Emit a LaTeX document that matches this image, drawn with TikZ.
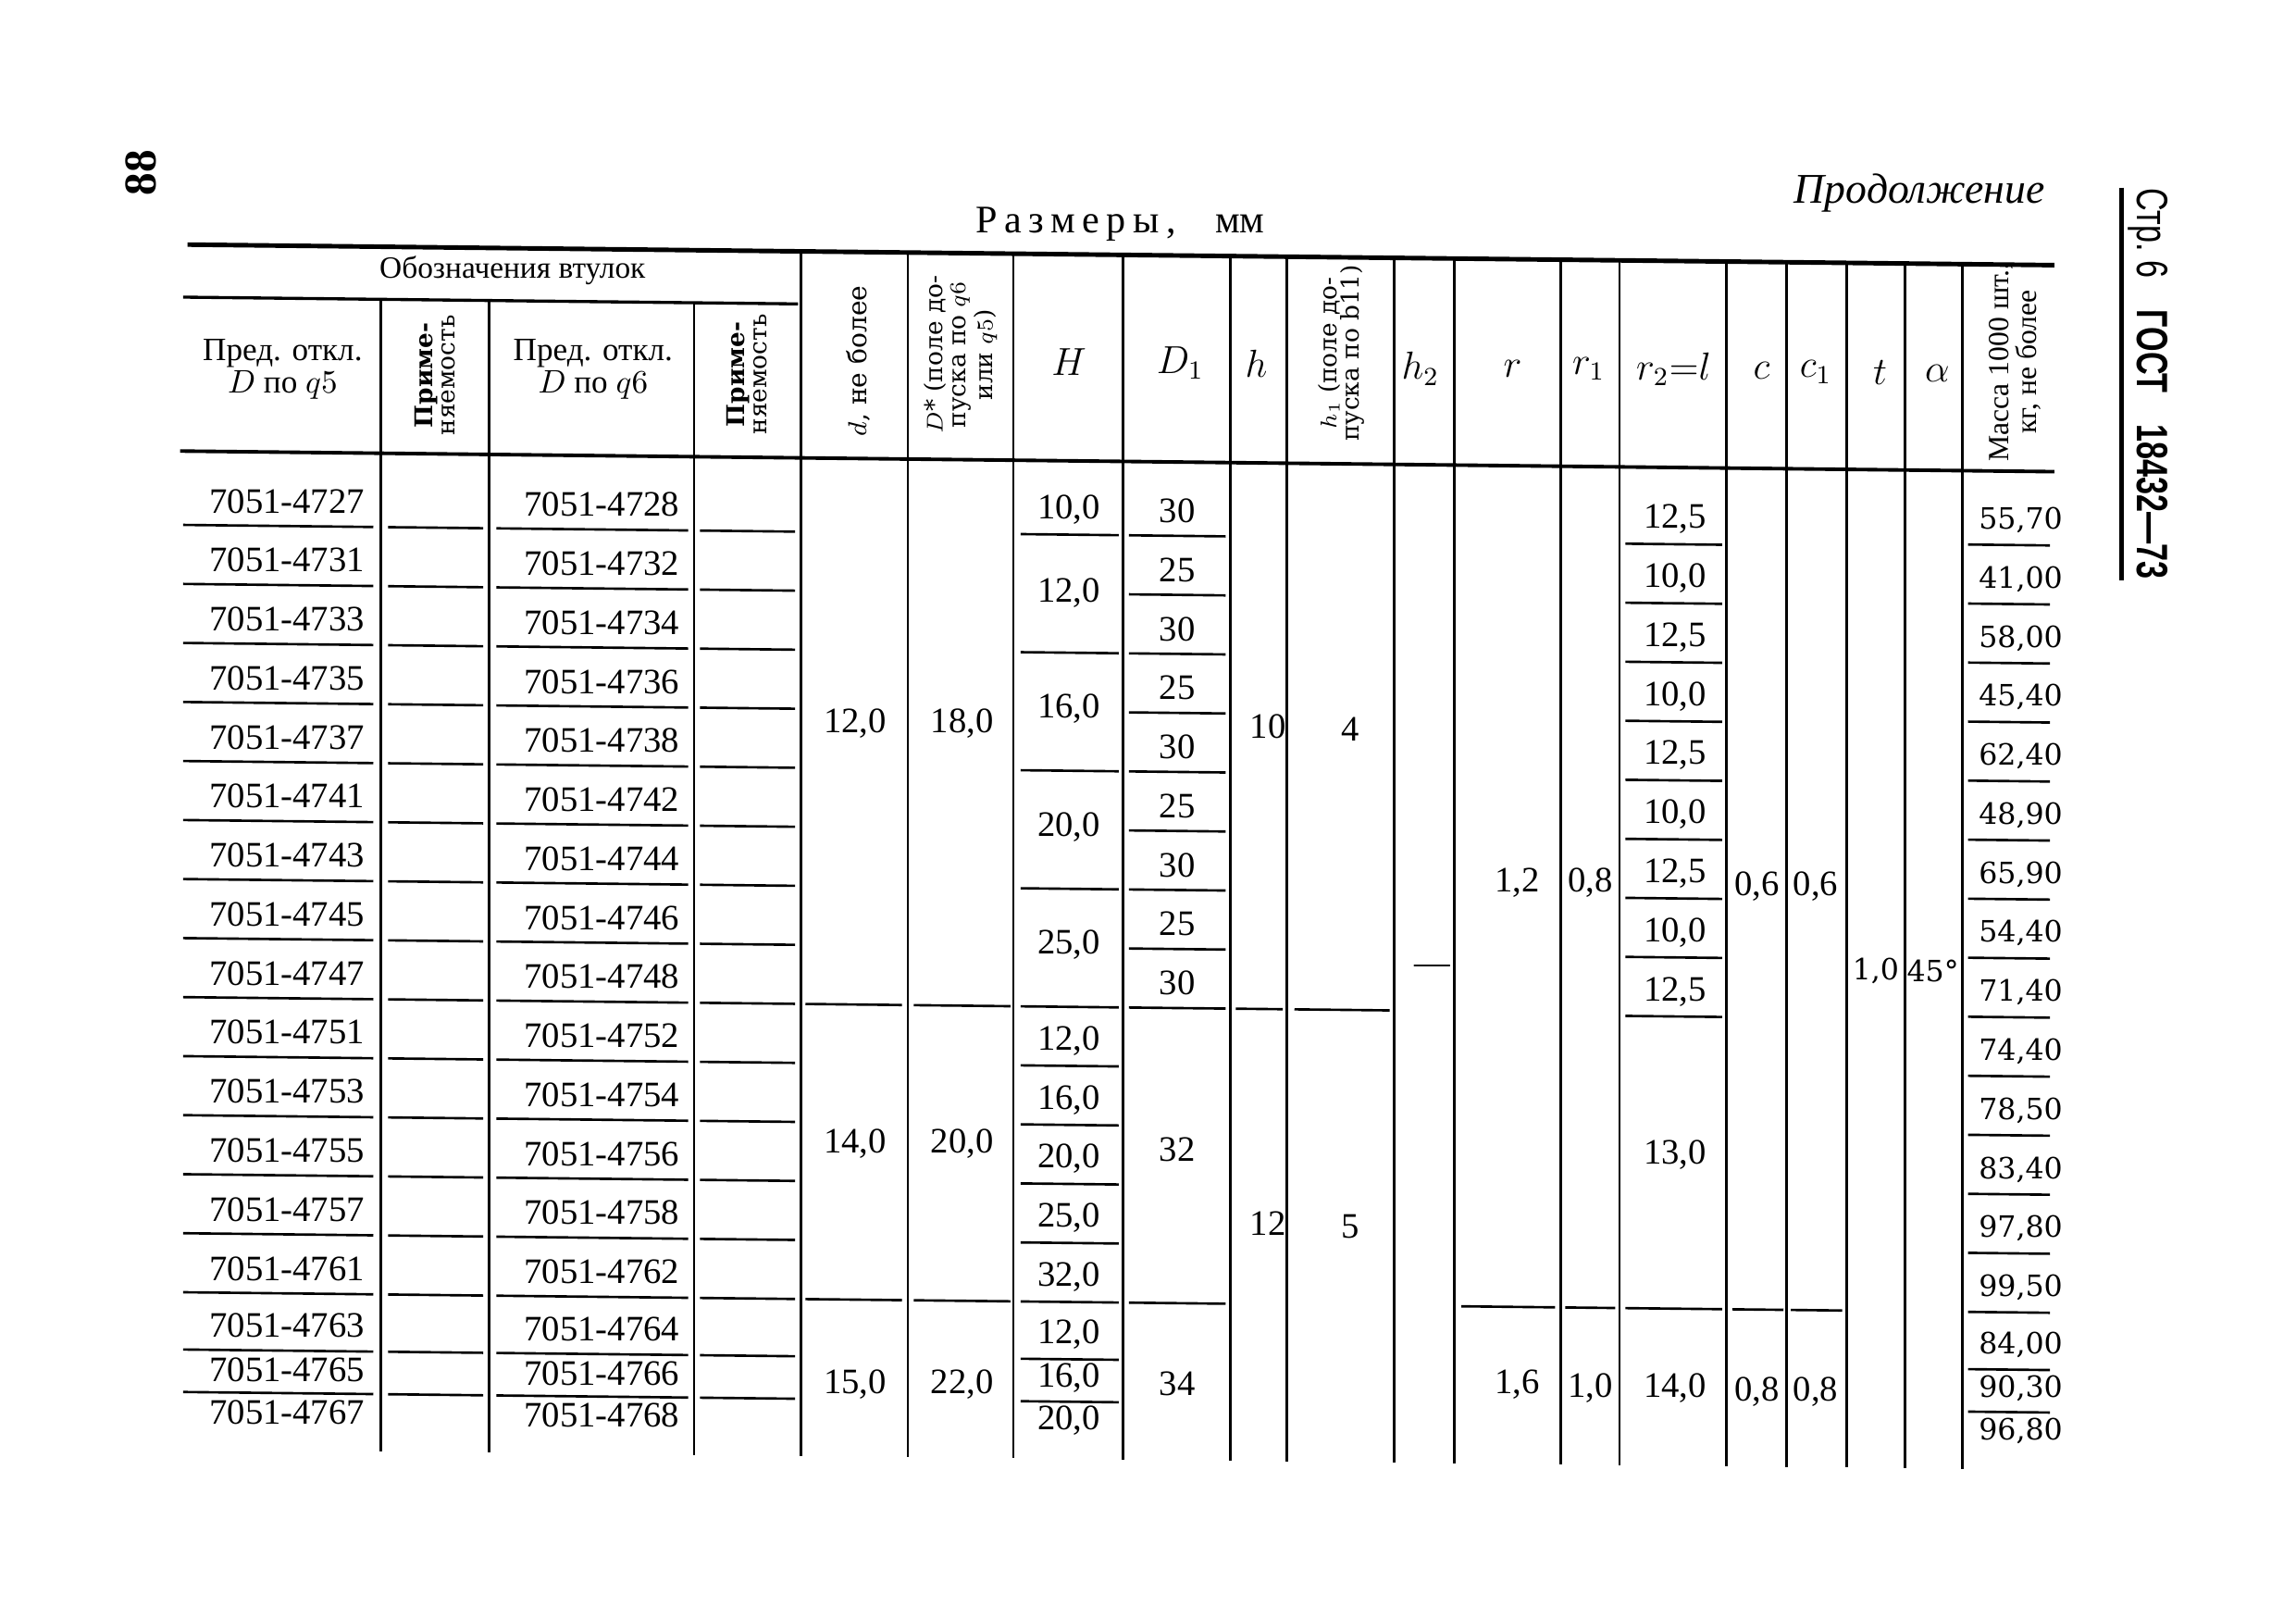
\documentclass[tikz,border=0pt]{standalone}
\usepackage{fontspec}
\setmainfont{Liberation Serif}
\newfontfamily\slabfont{DejaVu Serif}
\newfontfamily\gostfont{Liberation Sans}
\usepackage{graphicx}
\usetikzlibrary{positioning}

\begin{document}
\begin{tikzpicture}[x=0.015823cm,y=-0.015823cm,
    num/.style={inner sep=0pt,font=\fontsize{11}{12}\selectfont},
    mass/.style={inner sep=0pt,font=\slabfont\fontsize{9}{10}\selectfont},
    head/.style={inner sep=0pt,align=center,font=\fontsize{10}{8.5}\selectfont},
    sym/.style={inner sep=0pt,font=\fontsize{12}{12}\selectfont},
    vhead/.style={inner sep=0pt,align=center,rotate=90,font=\slabfont\fontsize{7.5}{7}\selectfont},
    toprule/.style={line width=1.4pt},
    midrule/.style={line width=1.1pt},
    colrule/.style={line width=0.8pt},
    uline/.style={line width=0.75pt}]
  \useasboundingbox (0,0) rectangle (1568,1105);
  \node[rotate=90,inner sep=0pt,font=\bfseries\fontsize{14}{14}\selectfont] (page) at (96,118) {88};
  \node[anchor=east,inner sep=0pt,font=\itshape\fontsize{13}{14}\selectfont] (cont) at (1397,132) {Продолжение};
  \node[inner sep=0pt,font=\fontsize{12}{13}\selectfont] (dims) at (765,153) {{\addfontfeature{LetterSpace=18}Размеры,}\quad мм};
  \draw[line width=1.4pt] (1449,128) -- (1449,396);
  \node[rotate=-90,inner sep=0pt,font=\gostfont\fontsize{13.5}{14}\selectfont] (gost) at (1467,262) {\scalebox{0.72}[1]{Стр.~6\quad\textbf{ГОСТ\quad18432—73}}};
  \begin{scope}[yslant=-0.011]
    \draw[toprule] (128,165.6) -- (1403,165.6);
    \draw[midrule] (123,306.6) -- (1403,306.6);
    \draw[colrule,line width=0.95pt] (125,201.5) -- (545,201.5);
    \foreach \cx in {260,334,474}
      \draw[colrule] (\cx,201.5) -- (\cx,988);
    \foreach \cx in {547,620,692,767,840,879,952,993,1066,1106,1179,1220,1261,1301,1340}
      \draw[colrule] (\cx,165.6) -- (\cx,988);

    \node[head,font=\fontsize{9.5}{10}\selectfont] (hdes) at (350,181) {Обозначения втулок};
    \node[head] (hq5) at (193,250) {Пред. откл.\\$D$ по $q5$};
    \node[vhead] (hu5) at (297,253) {\textbf{Приме-}\\няемость};
    \node[head] (hq6) at (405,247.5) {Пред. откл.\\$D$ по $q6$};
    \node[vhead] (hu6) at (510,250) {\textbf{Приме-}\\няемость};
    \node[vhead,font=\slabfont\fontsize{8}{8}\selectfont] (hd) at (586,240) {$d$, не более};
    \node[vhead] (hD) at (656,235) {$D$* (поле до-\\пуска по $q6$\\или $q5$)};
    \node[sym] (hH) at (730,239) {$H$};
    \node[sym] (hD1) at (806,239) {$D_1$};
    \node[sym] (hh) at (858,238.6) {$h$};
    \node[vhead] (hh1) at (916,231) {$h_1$ (поле до-\\пуска по b11)};
    \node[sym] (hh2) at (970,241) {$h_2$};
    \node[sym] (hr) at (1033,240.6) {$r$};
    \node[sym] (hr1) at (1085,240) {$r_1$};
    \node[sym] (hr2) at (1143,239.4) {$r_2{=}l$};
    \node[sym] (hc) at (1203,239.8) {$c$};
    \node[sym] (hc1) at (1240,240.4) {$c_1$};
    \node[sym] (ht) at (1284,240) {$t$};
    \node[sym] (ha) at (1323,240.4) {$\alpha$};
    \node[vhead,font=\fontsize{9}{8.5}\selectfont] (hmass) at (1376,232) {Масса 1000 шт.,\\кг, не более};

    \foreach \ry/\qa/\qb/\ms [count=\i] in {340/4727/4728/{55,70},380.3/4731/4732/{41,00},420.6/4733/4734/{58,00},460.9/4735/4736/{45,40},501.2/4737/4738/{62,40},541.5/4741/4742/{48,90},581.8/4743/4744/{65,90},622.1/4745/4746/{54,40},662.4/4747/4748/{71,40},702.7/4751/4752/{74,40},743/4753/4754/{78,50},783.3/4755/4756/{83,40},823.6/4757/4758/{97,80},863.9/4761/4762/{99,50},903/4763/4764/{84,00},933/4765/4766/{90,30},962/4767/4768/{96,80}} {
      \node[num] (qa\i) at (196,\ry) {7051-\qa};
      \node[num] (qb\i) at (411,\ry) {7051-\qb};
      \node[mass] (ms\i) at (1380,\ry) {\ms};
    }
    \foreach \uy in {357,397.3,437.6,477.9,518.2,558.5,598.8,639.1,679.4,719.7,760,800.3,840.6,880.9,920,949} {
      \draw[uline] (125,\uy) -- (255,\uy);
      \draw[uline] (265,\uy) -- (330,\uy);
      \draw[uline] (339,\uy) -- (470,\uy);
      \draw[uline] (478,\uy) -- (543,\uy);
      \draw[uline] (1344,\uy) -- (1400,\uy);
    }

    \node[num] (d1) at (584,487.6) {12,0};
    \node[num] (d2) at (584,774.6) {14,0};
    \node[num] (d3) at (584,938.6) {15,0};
    \node[num] (Ds1) at (657,486.8) {18,0};
    \node[num] (Ds2) at (657,773.8) {20,0};
    \node[num] (Ds3) at (657,937.8) {22,0};
    \foreach \uy in {679.4,880.9} {
      \draw[uline] (550,\uy) -- (616,\uy);
      \draw[uline] (624,\uy) -- (690,\uy);
    }

    \foreach \v/\ry [count=\i] in {{10,0}/340,{12,0}/397,{16,0}/476,{20,0}/557,{25,0}/637,{12,0}/702.7,{16,0}/743,{20,0}/783.3,{25,0}/823.6,{32,0}/863.9,{12,0}/903,{16,0}/933,{20,0}/962}
      \node[num] (H\i) at (730,\ry) {\v};
    \foreach \uy in {357,437.6,518.2,598.8,679.4,719.7,760,800.3,840.6,880.9,920,949}
      \draw[uline] (697,\uy) -- (764,\uy);

    \foreach \v/\ry [count=\i] in {30/340,25/380.3,30/420.6,25/460.9,30/501.2,25/541.5,30/581.8,25/622.1,30/662.4,32/776,34/936}
      \node[num] (Do\i) at (804,\ry) {\v};
    \foreach \uy in {357,397.3,437.6,477.9,518.2,558.5,598.8,639.1,679.4,880.9}
      \draw[uline] (771,\uy) -- (837,\uy);

    \node[num] (h1) at (866,486.5) {10};
    \node[num] (h2) at (866,825.5) {12};
    \draw[uline] (844,679.4) -- (876,679.4);
    \node[num] (ho1) at (922,488) {4};
    \node[num] (ho2) at (922,827) {5};
    \draw[uline] (884,679.4) -- (949,679.4);
    \node[num] (ht1) at (978,651) {—};

    \node[num] (r1) at (1036,591.6) {1,2};
    \node[num] (r2) at (1036,933.6) {1,6};
    \node[num] (ro1) at (1086,591) {0,8};
    \node[num] (ro2) at (1086,936) {1,0};
    \foreach \v/\ry [count=\i] in {{12,5}/342,{10,0}/382.3,{12,5}/422.6,{10,0}/462.9,{12,5}/503.2,{10,0}/543.5,{12,5}/583.8,{10,0}/624.1,{12,5}/664.4,{13,0}/776,{14,0}/935.4}
      \node[num] (rt\i) at (1144,\ry) {\v};
    \foreach \uy in {359,399.3,439.6,479.9,520.2,560.5,600.8,641.1,681.4}
      \draw[uline] (1110,\uy) -- (1176,\uy);
    \node[num] (c1) at (1200,591.8) {0,6};
    \node[num] (c2) at (1200,936.8) {0,8};
    \node[num] (co1) at (1240,591.4) {0,6};
    \node[num] (co2) at (1240,936.4) {0,8};
    \foreach \xa/\xb in {998/1062,1069/1103,1110/1176,1183/1218,1223/1258}
      \draw[uline] (\xa,880.9) -- (\xb,880.9);

    \node[mass] (t1) at (1281,649) {1,0};
    \node[mass] (a1) at (1320,648.5) {45°};
  \end{scope}
\end{tikzpicture}
\end{document}
